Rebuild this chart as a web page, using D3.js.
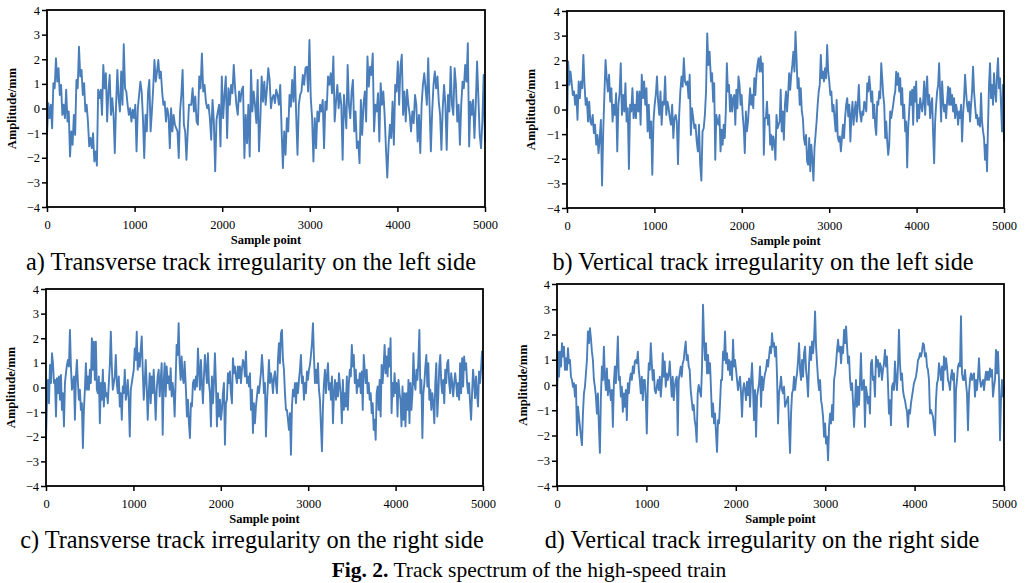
<!DOCTYPE html>
<html><head><meta charset="utf-8">
<script src="https://cdn.jsdelivr.net/npm/d3@7"></script>
<style>
body{margin:0;background:#fff}
svg{display:block}
text{font-family:"Liberation Serif","Times New Roman",serif;fill:#000}
</style>
</head><body>
<svg id="chart" width="1030" height="583"></svg>
<script>
const xTicks = [0,1000,2000,3000,4000,5000];
const yTicks = [-4,-3,-2,-1,0,1,2,3,4];
const captions = [
  "a) Transverse track irregularity on the left side",
  "b) Vertical track irregularity on the left side",
  "c) Transverse track irregularity on the right side",
  "d) Vertical track irregularity on the right side"
];
const xLabel = "Sample point";
const yLabel = "Amplitude/mm";
const figBold = "Fig. 2.";
const figText = " Track spectrum of the high-speed train";

// Panel a (transverse, left)
const aSpans = [[0,1621],[1647,3390],[3417,5000]];
const aSeg1 = [-1.07,0.22,-0.39,0.15,-0.8,1.03,0.82,2.04,1.09,1.64,0.55,0.96,-0.26,0.15,-0.39,0.76,-0.53,-0.12,-1.95,-0.93,-1.47,-0.26,-1.07,1.16,0.82,2.51,1.3,1.57,0.55,1.03,-0.12,0.15,-0.53,-1.54,-1.2,-1.61,-1.0,-2.15,-1.74,-2.32,0.76,0.42,0.76,-0.26,1.77,0.82,1.43,-0.53,0.69,1.36,-0.26,0.42,-0.26,-1.81,0.15,1.57,0.42,-0.12,1.5,0.15,2.61,0.82,0.69,0.15,-0.26,0.01,-0.53,-0.05,-0.39,0.15,-1.74,0.01,0.55,1.09,0.69,-0.39,-2.01,-0.26,-0.93,0.69,1.16,-0.93,-0.12,0.82,1.97,1.09,1.5,1.97,1.23,1.5,0.69,0.15,0.28,-0.53,0.01,-0.26,-1.61,0.01,-0.93,-0.26,-0.66,-0.8,-0.93,-2.01,-0.12,0.55,1.57,-0.66,-0.93,-2.08,-0.93,0.15];
const aSeg2 = [0.15,0.82,-0.12,0.49,-0.53,-0.66,1.3,0.82,2.24,0.69,0.96,0.28,0.01,0.15,-0.39,-1.27,0.35,-0.53,-2.55,-0.46,-0.12,0.15,-1.54,1.3,-0.39,0.55,1.3,-1.2,0.82,0.15,0.96,0.62,1.77,0.82,0.15,-0.26,0.69,0.28,0.76,0.89,-2.01,-0.26,-1.41,0.15,-1.95,1.57,-0.12,0.69,0.15,-0.59,1.16,-1.74,-0.46,1.3,0.28,1.09,0.15,0.82,1.64,1.16,0.01,0.42,0.55,0.22,0.76,0.55,0.15,0.96,-0.8,-2.42,-0.93,-1.88,-0.39,-0.93,0.55,0.08,1.16,0.28,1.7,-0.26,-1.88,0.15,0.55,0.69,1.36,0.96,1.64,1.7,0.69,2.78,0.42,-0.39,-2.15,-0.39,-1.61,-0.12,-0.53,0.15,-0.12,0.35,-1.61,0.28,-0.05,1.3,0.96,1.43,0.62,2.11,-0.53,0.28,0.96,0.01,0.62,0.15,-2.08,0.55];
const aSeg3 = [-0.8,1.77,0.15,-0.39,0.69,1.16,-0.93,-0.12,-1.61,-1.34,-2.22,0.35,-1.07,0.15,0.69,-0.53,2.11,0.89,1.7,1.36,2.24,-0.93,0.15,-0.12,0.62,-1.34,1.03,0.15,0.69,-0.26,-1.61,-2.8,-1.47,-0.66,-1.2,0.28,-1.47,0.96,0.69,1.91,0.15,1.7,2.18,-0.26,0.69,-0.53,0.76,0.15,-0.26,-0.93,-0.12,-0.59,0.55,0.15,-1.34,-0.26,-1.81,0.15,0.96,1.43,0.82,0.15,2.04,0.15,-1.74,-0.12,0.96,1.5,0.82,1.3,0.28,-0.26,-1.68,0.01,0.96,0.15,-1.68,0.55,-0.12,1.7,0.15,-0.26,1.64,0.96,-0.53,0.15,-1.47,0.15,1.09,0.82,1.77,1.09,2.65,-1.54,0.28,-0.26,0.35,-1.2,0.15,1.91,0.42,-1.07,-1.61,-0.53,1.36,-1.34];

// Panel b (vertical, left)
const bSpans = [[0,1631],[1648,3351],[3367,5000]];
const bSeg1 = [-0.76,1.95,1.0,1.54,1.07,0.59,0.73,0.19,0.59,-0.42,1.14,0.46,1.14,0.86,2.22,1.0,0.19,0.46,-0.49,0.32,-0.49,-0.62,-0.22,-0.96,-0.62,-1.43,-1.03,-1.77,-1.16,-0.42,-3.09,-0.89,0.59,2.01,1.27,0.73,1.41,0.32,0.86,-0.49,0.19,-0.22,0.66,-1.7,0.19,0.66,1.88,-0.22,0.59,-0.08,1.07,-0.49,0.05,-2.42,0.19,-0.08,0.86,-0.35,0.19,-0.35,0.73,-0.08,0.73,-0.62,1.41,0.46,1.14,0.19,0.86,-0.89,0.19,-1.16,-0.49,-2.65,-0.49,0.19,0.59,1.34,0.32,-0.22,0.73,-0.62,0.32,0.19,1.34,-0.22,0.32,0.05,-0.35,-0.62,0.19,-1.16,-0.35,-0.22,-0.49,-2.22,-0.22,0.73,1.34,0.93,2.08,1.14,1.0,1.14,0.46,1.41,-1.03,0.05,-0.35,-0.76,-0.62,-1.3,-1.7,-0.62,-2.24,-2.89,-0.89,-0.76,-0.22,0.73,3.09,1.81,2.35];
const bSeg2 = [1.14,1.47,0.32,1.07,-2.04,-0.22,-0.49,-0.62,-0.22,-1.7,-0.82,-1.43,-0.62,-1.16,-0.08,1.88,0.73,1.0,-0.08,0.59,-0.08,0.46,0.59,-0.62,0.8,0.05,1.34,1.0,0.19,0.59,-0.22,-0.76,-1.77,-0.08,-0.89,-0.49,0.19,0.86,0.19,0.59,0.05,1.27,0.59,1.41,1.81,2.08,1.54,2.15,1.54,1.88,-1.84,-0.35,-0.35,0.32,-0.62,-0.22,-1.43,-1.03,-1.64,-1.09,-1.36,-2.04,-0.22,-0.76,-0.62,-0.49,0.8,-0.89,-0.08,-1.23,0.19,0.73,-0.08,0.59,1.47,0.8,1.41,1.81,2.35,1.54,3.16,2.08,0.86,1.27,0.19,0.86,-0.08,-0.35,-1.16,-1.43,-1.03,-2.11,-2.24,-1.16,-2.51,-1.43,-2.04,-2.89,-1.57,-1.03,-0.49,0.19,0.73,1.0,2.22,1.27,1.54,1.14,1.68,1.27,2.62,1.54,1.14,0.59,0.73,-0.08,0.19,-0.35,-0.89,0.39,-1.09,-1.3,-1.09,-1.7,-1.16,-0.62,-1.16,-0.35,0.19,0.46,-0.28,0.19,-1.3,-0.22,0.32,-0.62,-0.08,0.32,-0.49,0.19,1.0,-0.08];
const bSeg3 = [-0.49,-0.08,-0.22,0.32,0.19,-0.08,1.07,0.73,1.34,0.86,0.32,0.73,-0.35,0.19,-0.69,-1.03,0.32,0.19,0.73,0.46,1.88,1.27,0.59,0.19,-1.16,-0.49,-1.3,-1.84,-1.43,-0.08,-0.35,-0.08,0.19,0.53,0.73,1.54,1.0,1.47,0.73,1.27,0.19,0.86,-0.35,0.19,-0.89,-0.49,-2.35,-0.76,-0.08,0.73,0.19,0.8,-0.62,0.93,0.32,1.14,-0.49,0.19,-0.35,0.46,0.19,-0.08,0.32,1.14,-0.22,0.73,1.34,0.19,0.59,-0.35,0.19,0.46,-1.03,-2.18,-0.49,0.19,0.73,1.0,1.88,0.73,-0.49,1.14,0.32,-0.08,0.19,-0.35,0.32,0.93,0.19,0.86,0.19,0.59,-0.08,0.46,-0.35,0.19,-0.08,-0.62,-0.08,-0.35,0.19,-1.3,-0.22,0.46,1.41,0.73,0.19,-0.08,0.32,-0.49,0.19,0.73,1.74,0.73,0.19,-0.35,-0.22,-0.62,-0.35,-0.69,0.66,-0.49,-0.89,-1.16,-2.04,-1.43,-2.51,-0.62,1.0,1.88,0.46,1.0,0.19,1.47,0.73,0.32,1.41,2.08,0.86,1.27,0.19,-0.89,1.0,-1.3];

// Panel c (transverse, right)
const cSpans = [[0,1586],[1601,3352],[3374,5000]];
const cSeg1 = [-2.12,-0.5,0.31,-0.64,0.92,0.18,1.39,0.99,0.18,0.31,-1.18,0.38,-0.23,0.45,-0.5,0.51,-0.91,-0.23,-1.58,0.18,0.58,0.92,1.12,0.85,2.34,0.85,-0.09,0.18,0.45,-1.31,0.45,1.12,0.18,-0.5,-0.09,-0.91,-0.64,-2.46,-0.91,-0.09,0.99,-0.09,0.45,-0.09,0.72,0.18,2.0,0.72,1.86,0.31,1.86,-0.09,-0.23,0.45,-1.45,0.18,-0.5,0.72,-0.77,0.18,-0.36,-0.23,-0.64,0.18,0.92,2.27,0.85,-0.09,0.18,0.45,1.32,0.18,-0.23,0.45,-0.77,-0.23,-1.31,0.04,-0.23,0.72,-0.5,-0.23,0.31,-0.5,-1.99,-0.09,0.18,0.45,0.72,1.59,1.12,2.27,0.72,1.39,0.85,1.53,2.07,0.72,-0.5,0.18,1.12,0.04,-1.31,-0.23,0.58,-0.64,0.45,-0.23,0.72,-0.23,-1.31,-0.09,0.45,0.72,-0.36,0.31,0.99,-1.92,0.18,0.99,-0.36,0.85,0.18,0.45,-0.09,0.78,-0.36,0.18,-0.23,-1.18,0.31,1.73,1.32,2.61,0.99,0.31,1.26,0.45,0.18,1.05];
const cSeg2 = [-0.09,-1.18,-0.5,-1.45,-2.05,-0.64,-0.77,0.18,0.31,-0.09,0.45,0.04,1.59,0.72,-0.09,1.12,0.18,-0.64,0.45,1.32,0.72,0.18,1.39,0.18,-0.23,-1.58,0.45,-0.64,0.18,1.39,0.18,-1.58,-0.23,-1.18,-0.5,-1.31,-0.91,-0.23,0.18,-2.32,-0.64,-0.5,0.58,0.18,0.65,-0.23,-0.64,1.19,0.58,0.85,0.45,0.18,0.85,0.38,0.85,0.18,0.72,1.12,0.99,0.45,1.46,0.18,0.45,0.04,0.58,-0.91,-0.09,-1.85,-0.64,-1.45,-0.77,-0.36,0.04,-0.23,0.18,0.58,1.32,0.72,-0.23,0.18,-1.99,-0.64,0.18,1.12,0.18,0.58,0.31,-0.23,0.38,0.65,0.18,-0.23,1.12,1.8,0.99,2.2,2.34,1.12,0.72,-0.23,-0.91,-0.91,-1.31,-1.72,-1.04,-2.73,-0.77,-0.09,-0.36,0.18,-0.64,0.18,-0.23,0.31,0.72,1.32,0.18,0.45,-0.5,0.18,-0.23,0.65,0.31,0.72,0.92,1.32,1.8,2.61,1.26,0.18,0.72,0.18,0.99,-0.09,-0.5,-1.58,-2.59,-0.77,0.18,0.72,-0.23,0.45,0.99,-0.09,0.18,-0.5,0.45,-1.45,-0.23,0.31,-0.5,0.18,-0.36,0.58];
const cSeg3 = [-0.36,-1.45,0.31,-0.91,-0.23,-0.77,0.45,-0.91,0.18,0.72,0.45,1.73,0.85,1.32,0.18,0.72,-0.23,0.31,0.04,0.58,-0.23,0.65,-0.91,1.32,0.72,0.18,0.72,-0.23,0.18,-0.5,-0.23,-1.04,-0.64,-1.72,-1.31,-2.12,-0.23,0.04,-0.91,0.31,-1.18,0.92,0.18,0.85,1.73,0.58,1.26,0.45,1.59,0.85,2.0,-1.04,0.18,-0.36,0.58,-0.23,0.18,-1.18,0.31,-0.23,-0.5,-1.58,0.04,-1.31,-0.23,-1.58,-0.23,-0.91,0.31,-1.45,0.18,-0.91,-0.23,1.39,0.18,-0.09,0.72,0.31,1.12,2.34,-0.23,0.31,-2.05,-0.23,0.18,0.85,1.32,0.04,0.99,-0.5,-0.09,-0.91,-0.23,-0.64,-1.45,0.18,0.99,-1.18,-0.36,0.85,1.32,0.18,-0.23,0.31,-0.64,0.72,0.18,0.99,1.12,0.18,-0.23,0.58,0.18,-0.36,0.18,0.58,0.18,-0.36,0.18,-0.5,0.99,-0.23,1.19,0.04,1.26,0.72,0.99,0.18,-0.23,0.18,-0.64,-1.31,-0.23,0.72,0.18,-0.43,0.45,-0.23,-0.77,0.65,0.18,0.72,1.46,0.72];

// Panel d (vertical, right)
const dSpans = [[0,1596],[1611,3323],[3344,5000]];
const dSeg1 = [-0.66,1.32,0.33,1.32,0.73,1.66,1.13,1.52,0.6,1.06,0.6,1.46,0.86,0.99,0.33,0.2,-0.07,0.07,-0.46,0,-1.99,-0.86,-1.26,-1.66,-2.05,-2.38,-1.13,-0.33,-0.07,0.46,0.99,2.12,1.66,2.25,1.85,1.32,0.99,0.2,-0.07,-0.46,-1.13,-0.33,-1.66,-2.69,-0.46,0.73,0.2,1.52,0.33,-0.2,0.66,-0.4,0.2,-0.2,-0.6,-0.2,-1.66,0.07,0.73,0.07,0.86,1.92,0.2,0.33,-0.46,-0.07,-1.06,-0.33,-0.86,-0.2,-1.39,0.07,-0.33,0.2,0.46,0.2,0.73,0.46,0.93,0.99,0.86,1.32,0.6,0.2,-0.33,0.33,-0.6,0.2,0.2,-0.53,-1.92,-0.07,0.86,0.6,1.66,0.86,0.2,0.6,-0.2,-0.33,-0.07,0.2,-0.2,0.33,-0.46,0.07,1.26,0.33,0.93,-0.07,0.46,0.2,0.4,0.93,0.2,-0.46,0.33,-0.6,-0.07,0.2,0.33,-1.99,0.2,0.46,0.73,0.33,0.86,0.99,1.39,1.72,0.99,1.19,0.73,0.6,-0.2,-0.6,-0.99,-0.79,-1.39,-1.66,-2.25,-0.33,0,-0.2];
const dSeg2 = [-0.46,0.73,3.18,1.79,0.99,1.66,0.46,1.19,0.46,0.86,-0.2,-1.26,-0.73,-1.52,-1.13,-1.92,-2.65,-1.39,-1.52,-0.73,0.2,0.2,1.32,0.99,2.12,0.86,1.26,0.6,0.99,0.4,0.93,0.2,1.79,0.73,0.99,0.6,0.2,-0.2,0.07,0.33,-0.33,-1.26,-0.2,0.07,-0.2,-0.6,0.13,-0.4,0.26,-0.86,0.2,0.86,-0.2,-1.39,-0.2,-2.05,-0.46,-0.2,0.07,0.73,-0.86,0.33,-0.2,0.2,0.46,0.6,0.99,0.73,1.13,1.52,1.26,2.05,1.52,1.66,1.13,1.52,0.33,-1.52,-0.33,-0.07,0.33,-0.2,-0.33,-0.07,-0.86,-0.73,-0.6,-0.46,-1.66,-2.69,-1.13,-0.33,-0.2,0.33,-0.2,0.2,0.46,0.99,1.66,0.6,0.2,0.99,0.33,1.26,1.52,0.6,0.2,-0.46,0.86,1.52,0.99,1.72,1.26,1.79,2.91,1.52,0.86,0.2,-0.2,0.2,-0.6,-0.86,-1.26,-2.05,-1.52,-2.32,-2.05,-2.98,-1.66,-1.13,-1.52,-0.79,-1.39,0.2,0.46,0.86,1.39,1.79,1.32,1.52,0.86,1.52,1.26,2.19,1.66,2.32,1.52,0.86,1.13,0.2,-0.2,0.07,-0.73,-1.66];
const dSeg3 = [0.2,-0.86,-0.07,-0.79,0.07,1.26,-0.2,-0.07,0.2,-1.66,-0.07,-0.33,-0.73,-0.46,-1.13,0.86,0.99,0.2,0.33,-0.46,1.13,0.73,0.99,0.33,0.86,0.73,0.2,0.6,0.86,1.39,0.73,1.13,0.07,-1.13,-0.6,-1.59,-0.07,0.07,-0.2,0.93,0.2,-0.2,0.73,2.19,0.86,0.2,0.46,-0.2,-0.46,-0.6,-0.86,-1.06,-1.66,-0.99,-1.13,-0.73,-0.46,-0.2,0.07,0.2,0.33,0.6,0.99,1.06,1.26,1.13,1.32,1.66,1.59,1.13,1.26,0.73,0.6,0.2,-1.13,-0.99,-1.13,-1.26,-1.66,-1.99,-0.6,0.07,0.2,0.86,0.6,0.2,0.73,-0.2,1.13,0.6,1.06,0.73,0.2,0.07,-0.2,0.33,0.6,0.2,0.46,-2.25,-0.2,0.2,0.73,0.86,0.73,2.72,0.46,0.2,0.2,0.6,0.07,-0.33,-1.79,-0.33,0.2,0.46,0.2,0.4,0.46,-0.46,0.2,-0.2,0.33,1.06,0.2,-0.07,0.07,0.2,-0.2,0.2,0.53,0.2,0.53,0.2,0.66,0.33,0.6,-0.46,-0.07,0.2,1.39,0.46,1.32,0.2,-2.19,-0.6,0.2,-0.46,-0.07];

const panels = [
  {spans:aSpans, segs:[aSeg1,aSeg2,aSeg3], L:47, R:485, T:10, B:207, yl:12, cap:captions[0], cx:251, cy:270},
  {spans:bSpans, segs:[bSeg1,bSeg2,bSeg3], L:567, R:1004, T:11, B:208, yl:531, cap:captions[1], cx:763, cy:270},
  {spans:cSpans, segs:[cSeg1,cSeg2,cSeg3], L:46, R:483, T:289, B:486, yl:11, cap:captions[2], cx:252, cy:548},
  {spans:dSpans, segs:[dSeg1,dSeg2,dSeg3], L:557, R:1004, T:284, B:486, yl:523, cap:captions[3], cx:762, cy:548}
];

const FONT = '"Liberation Serif","Times New Roman",serif';
const svg = d3.select("#chart");
const blue = "#4a7ebb";

panels.forEach(p => {
  const x = d3.scaleLinear().domain([0,5000]).range([p.L,p.R]);
  const y = d3.scaleLinear().domain([-4,4]).range([p.B,p.T]);
  const pts = [];
  p.segs.forEach((seg,k) => {
    const [s0,s1] = p.spans[k];
    seg.forEach((v,i) => pts.push([s0 + (s1-s0)*i/(seg.length-1), v]));
  });
  const g = svg.append("g");
  g.append("path").datum(pts)
    .attr("fill","none").attr("stroke",blue).attr("stroke-width",1.9)
    .attr("stroke-linejoin","round")
    .attr("d", d3.line().x(d=>x(d[0])).y(d=>y(d[1])));

  const xa = g.append("g").attr("transform",`translate(0,${p.B})`)
    .call(d3.axisBottom(x).tickValues(xTicks).tickFormat(d3.format("d")).tickSize(5).tickSizeOuter(0).tickPadding(8));
  const ya = g.append("g").attr("transform",`translate(${p.L},0)`)
    .call(d3.axisLeft(y).tickValues(yTicks).tickFormat(d3.format("d")).tickSize(5).tickSizeOuter(0).tickPadding(2));
  [xa,ya].forEach(a => {
    a.attr("font-family",FONT).attr("font-size",12.5);
    a.selectAll("text").style("font-family",FONT).style("font-size","12.5px").attr("fill","#000");
    a.selectAll("line").attr("stroke","#000").attr("stroke-width",1.5);
    a.select(".domain").attr("stroke","none");
  });
  g.append("rect").attr("x",p.L).attr("y",p.T).attr("width",p.R-p.L).attr("height",p.B-p.T)
    .attr("fill","none").attr("stroke","#000").attr("stroke-width",1.8);

  g.append("text").attr("x",(p.L+p.R)/2).attr("y",p.B+37)
    .attr("text-anchor","middle").style("font-family",FONT).style("font-size","12.5px").style("font-weight","bold").text(xLabel);
  g.append("text").attr("transform",`translate(${p.yl},${(p.T+p.B)/2}) rotate(-90)`)
    .attr("text-anchor","middle").attr("dy","0.35em")
    .style("font-family",FONT).style("font-size","12.5px").style("font-weight","bold").text(yLabel);
  svg.append("text").attr("x",p.cx).attr("y",p.cy).attr("text-anchor","middle")
    .style("font-family",FONT).style("font-size","24.3px").text(p.cap);
});

const fig = svg.append("text").attr("x",529).attr("y",577).attr("text-anchor","middle")
  .style("font-family",FONT).style("font-size","21.5px");
fig.append("tspan").style("font-weight","bold").text(figBold);
fig.append("tspan").text(figText);
</script>
</body></html>
